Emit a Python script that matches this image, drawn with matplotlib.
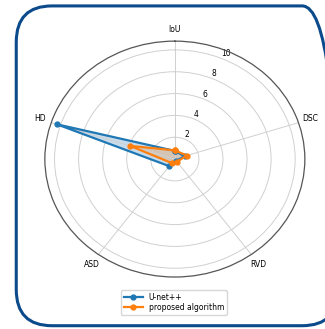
import matplotlib.pyplot as plt
import numpy as np
from matplotlib.patches import FancyBboxPatch

metrics = ['IoU', 'DSC', 'RVD', 'ASD', 'HD']
unet_pp = [0.75, 0.85, 0.2, 0.8, 10.3]
proposed = [0.8, 1.05, 0.3, 0.45, 3.9]
series_names = ['U-net++', 'proposed algorithm']
r_ticks = [2, 4, 6, 8, 10]

angles = np.linspace(0, 2 * np.pi, len(metrics), endpoint=False)

fig = plt.figure(figsize=(3.25, 3.29), dpi=100)

# rounded frame round the whole figure
frame = FancyBboxPatch((0.05, 0.01), 0.99, 0.972,
                       boxstyle='round,pad=0,rounding_size=0.11',
                       transform=fig.transFigure, fill=False,
                       edgecolor='#0b4a8b', linewidth=2.2, zorder=10)
fig.patches.append(frame)

ax = fig.add_axes([0.138, 0.158, 0.8, 0.717], projection='polar')
ax.set_aspect('auto')
ax.set_theta_offset(np.pi / 2)
ax.set_theta_direction(-1)

for vals, name in zip([unet_pp, proposed], series_names):
    closed = vals + vals[:1]
    theta = np.append(angles, angles[0])
    ax.plot(theta, closed, marker='o', markersize=3.5, linewidth=1.6, label=name)
    ax.fill(theta, closed, alpha=0.25)

ax.set_xticks(angles)
ax.set_xticklabels(metrics, fontsize=5.5)
ax.set_yticks(r_ticks)
ax.set_yticklabels([str(t) for t in r_ticks], fontsize=5.5)
ax.tick_params(axis='x', pad=-2)
ax.grid(color='#d0d0d0', linewidth=0.7)
ax.spines['polar'].set_color('#555555')
ax.spines['polar'].set_linewidth(0.9)

fig.legend(loc='center', bbox_to_anchor=(0.535, 0.081), fontsize=5.5,
           handlelength=2.5, borderpad=0.35, labelspacing=0.15)

plt.savefig('out.png', dpi=100)
